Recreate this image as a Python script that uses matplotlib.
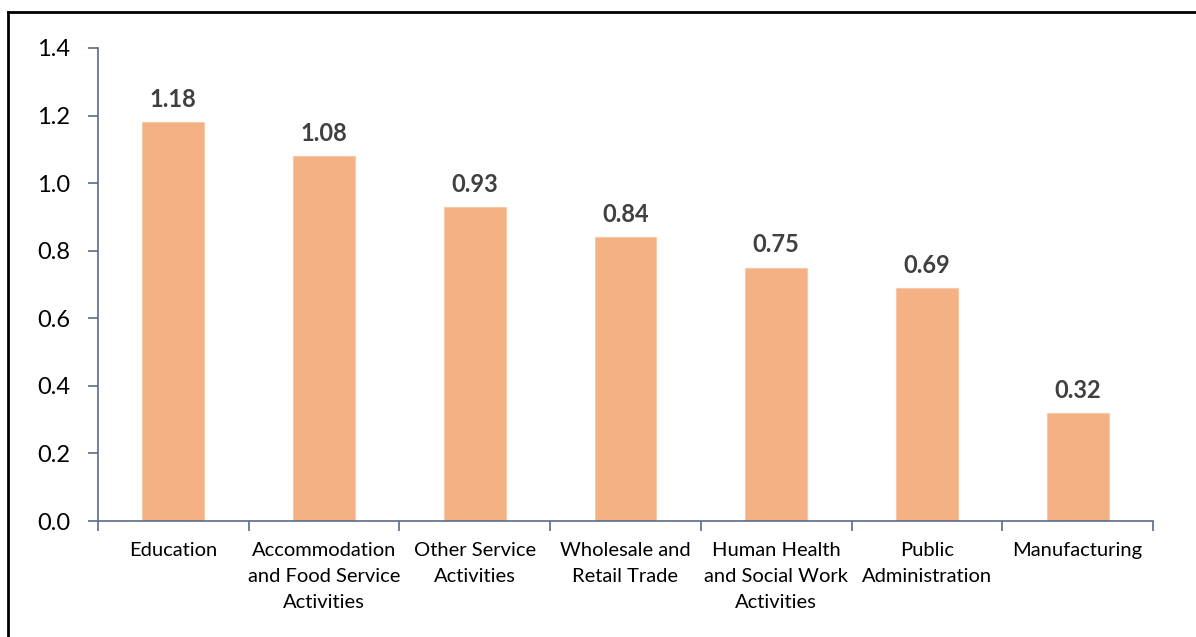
import matplotlib
matplotlib.use("Agg")
import matplotlib.pyplot as plt
from matplotlib.lines import Line2D
import numpy as np

categories = ["Education", "Accommodation\nand Food Service\nActivities", "Other Service\nActivities",
              "Wholesale and\nRetail Trade", "Human Health\nand Social Work\nActivities",
              "Public\nAdministration", "Manufacturing"]
values = [1.18, 1.08, 0.93, 0.84, 0.75, 0.69, 0.32]
labels = ["1.18", "1.08", "0.93", "0.84", "0.75", "0.69", "0.32"]
yticks = [0.0, 0.2, 0.4, 0.6, 0.8, 1.0, 1.2, 1.4]

plt.rcParams['font.family'] = ['Lato', 'DejaVu Sans']

W, H = 1196, 637
fig = plt.figure(figsize=(W / 100, H / 100), dpi=100)
ax = fig.add_axes([98 / W, 1 - 521 / H, (1153 - 98) / W, (521 - 48) / H])

x = np.arange(len(categories))
bar_color = "#F4B183"
ax.bar(x, values, width=0.41, color=bar_color, edgecolor="#F8C9A6", linewidth=0.8, zorder=2)
for xi, v, lab in zip(x, values, labels):
    ax.annotate(lab, (xi, v), xytext=(0, 8), textcoords="offset points",
                ha="center", va="bottom", fontsize=17, fontweight="bold", color="#404040")

ax.set_xlim(-0.5, len(categories) - 0.5)
ax.set_ylim(0, 1.4)
ax.set_yticks(yticks)
ax.set_yticklabels([f"{t:.1f}" for t in yticks], fontsize=17, color="#000000")
ax.set_xticks(x)
ax.set_xticklabels(categories, fontsize=14.5, color="#000000", linespacing=1.65)
ax.tick_params(axis="x", length=0, pad=15)
ax.tick_params(axis="y", length=7, width=1.2, color="#5B6B86", pad=13)
ax.set_xticks(np.arange(-0.5, len(categories)), minor=True)
ax.tick_params(axis="x", which="minor", length=7, width=1.2, color="#5B6B86", direction="out")

spine_color = "#5B6B86"
for s in ["top", "right"]:
    ax.spines[s].set_visible(False)
for s in ["left", "bottom"]:
    ax.spines[s].set_color(spine_color)
    ax.spines[s].set_linewidth(1.2)

# outer frame (partially cropped at right and bottom)
fig.add_artist(Line2D([8 / W, 1.0], [1 - 11.5 / H, 1 - 11.5 / H], color="black", lw=2, transform=fig.transFigure))
fig.add_artist(Line2D([8 / W, 8 / W], [0, 1 - 11.5 / H], color="black", lw=2, transform=fig.transFigure))

fig.savefig("out.png", dpi=100)
